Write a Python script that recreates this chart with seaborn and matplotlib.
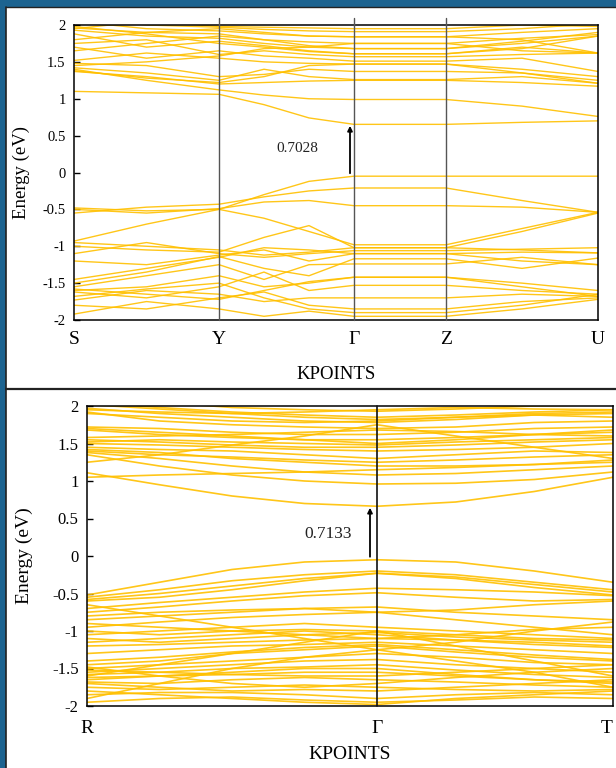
import matplotlib
matplotlib.use("Agg")
import matplotlib.pyplot as plt
from matplotlib.patches import Rectangle
from matplotlib.lines import Line2D
import numpy as np
import pandas as pd
import seaborn as sns

# ---------------- path 1: S - Y - Gamma - Z - U ----------------
path1_labels = ["S", "Y", "Γ", "Z", "U"]
path1_label_k = [0, 145, 280, 372, 524]
# k-distance of every sampled point along the path
path1_k = [0, 72.5, 145, 190, 235, 280, 372, 448, 524]
path1_gap = 0.7028
path1_vbm = -0.05

path1_valence = [
    [-0.48, -0.52, -0.50, -0.30, -0.12, -0.05, -0.05, -0.05, -0.05],
    [-0.55, -0.47, -0.43, -0.33, -0.25, -0.21, -0.21, -0.38, -0.54],
    [-0.50, -0.55, -0.49, -0.40, -0.38, -0.45, -0.45, -0.47, -0.54],
    [-0.93, -0.70, -0.50, -0.62, -0.80, -0.98, -0.98, -0.76, -0.54],
    [-1.00, -1.05, -1.08, -0.88, -0.72, -1.02, -1.02, -0.80, -0.55],
    [-1.10, -0.95, -1.10, -1.15, -1.10, -1.06, -1.06, -1.04, -1.02],
    [-1.20, -1.25, -1.12, -1.05, -1.20, -1.10, -1.10, -1.08, -1.09],
    [-1.50, -1.35, -1.14, -1.30, -1.40, -1.17, -1.17, -1.30, -1.16],
    [-1.55, -1.40, -1.25, -1.45, -1.25, -1.24, -1.24, -1.15, -1.25],
    [-1.60, -1.55, -1.40, -1.55, -1.50, -1.42, -1.42, -1.50, -1.60],
    [-1.62, -1.70, -1.55, -1.35, -1.60, -1.53, -1.53, -1.60, -1.65],
    [-1.73, -1.60, -1.65, -1.75, -1.70, -1.70, -1.70, -1.65, -1.68],
    [-1.80, -1.85, -1.70, -1.62, -1.80, -1.85, -1.85, -1.75, -1.70],
    [-1.92, -1.75, -1.85, -1.95, -1.88, -1.95, -1.95, -1.85, -1.72],
    [-0.95, -1.00, -1.05, -1.12, -1.08, -1.02, -1.02, -1.05, -1.09],
    [-1.45, -1.30, -1.15, -1.02, -1.05, -1.10, -1.10, -1.20, -1.25],
    [-1.58, -1.65, -1.72, -1.60, -1.48, -1.42, -1.42, -1.55, -1.68],
    [-1.68, -1.58, -1.50, -1.70, -1.85, -1.90, -1.90, -1.80, -1.65],
]
path1_conduction = [
    [1.10, 1.08, 1.06, 0.92, 0.74, 0.6528, 0.6528, 0.68, 0.70],
    [1.40, 1.25, 1.12, 1.05, 1.00, 0.99, 0.99, 0.90, 0.76],
    [1.37, 1.30, 1.20, 1.22, 1.24, 1.25, 1.25, 1.22, 1.17],
    [1.42, 1.35, 1.25, 1.40, 1.30, 1.26, 1.26, 1.30, 1.21],
    [1.48, 1.45, 1.30, 1.33, 1.40, 1.37, 1.37, 1.35, 1.25],
    [1.52, 1.62, 1.55, 1.50, 1.48, 1.47, 1.47, 1.40, 1.30],
    [1.70, 1.55, 1.65, 1.58, 1.55, 1.51, 1.51, 1.55, 1.37],
    [1.75, 1.80, 1.60, 1.65, 1.60, 1.57, 1.57, 1.60, 1.62],
    [1.88, 1.70, 1.78, 1.72, 1.65, 1.61, 1.61, 1.70, 1.62],
    [1.93, 1.85, 1.82, 1.75, 1.70, 1.68, 1.68, 1.75, 1.85],
    [1.96, 1.90, 1.88, 1.80, 1.77, 1.75, 1.75, 1.82, 1.87],
    [2.05, 1.95, 1.92, 1.88, 1.85, 1.84, 1.84, 1.90, 1.95],
    [2.10, 2.00, 1.97, 1.94, 1.92, 1.91, 1.91, 1.95, 2.02],
    [1.95, 2.05, 1.98, 1.97, 1.96, 1.95, 1.95, 2.00, 1.98],
    [1.38, 1.28, 1.22, 1.30, 1.45, 1.47, 1.47, 1.35, 1.21],
    [1.45, 1.50, 1.58, 1.68, 1.70, 1.75, 1.75, 1.65, 1.62],
    [1.65, 1.75, 1.85, 1.80, 1.72, 1.68, 1.68, 1.78, 1.90],
    [1.80, 1.90, 1.95, 1.90, 1.85, 1.84, 1.84, 1.80, 1.62],
    [1.98, 1.88, 1.75, 1.70, 1.64, 1.61, 1.61, 1.68, 1.85],
]

# ---------------- path 2: R - Gamma - T ----------------
path2_labels = ["R", "Γ", "T"]
path2_label_k = [0, 290, 526]
path2_k = [0, 72.5, 145, 217.5, 290, 368.7, 447.3, 526]
path2_gap = 0.7133
path2_vbm = -0.05

path2_valence = [
    [-0.52, -0.35, -0.18, -0.08, -0.05, -0.08, -0.20, -0.35],
    [-0.55, -0.45, -0.33, -0.25, -0.20, -0.25, -0.35, -0.45],
    [-0.60, -0.55, -0.45, -0.33, -0.23, -0.30, -0.42, -0.52],
    [-0.70, -0.62, -0.55, -0.48, -0.43, -0.45, -0.48, -0.53],
    [-0.75, -0.68, -0.60, -0.53, -0.49, -0.55, -0.60, -0.58],
    [-0.85, -0.80, -0.75, -0.70, -0.68, -0.75, -0.80, -0.85],
    [-0.95, -0.88, -0.82, -0.78, -0.75, -0.85, -0.95, -1.05],
    [-1.05, -1.00, -0.95, -0.90, -0.95, -1.00, -1.05, -1.10],
    [-1.10, -1.15, -1.10, -1.05, -1.02, -1.08, -1.12, -1.15],
    [-1.20, -1.18, -1.15, -1.12, -1.10, -1.12, -1.15, -1.20],
    [-1.30, -1.25, -1.20, -1.18, -1.15, -1.20, -1.25, -1.30],
    [-1.45, -1.40, -1.30, -1.25, -1.20, -1.28, -1.35, -1.40],
    [-1.50, -1.45, -1.40, -1.35, -1.30, -1.35, -1.42, -1.45],
    [-1.55, -1.50, -1.45, -1.40, -1.38, -1.45, -1.50, -1.55],
    [-1.58, -1.55, -1.50, -1.48, -1.45, -1.52, -1.58, -1.62],
    [-1.62, -1.60, -1.58, -1.55, -1.55, -1.60, -1.65, -1.68],
    [-1.68, -1.70, -1.65, -1.62, -1.65, -1.68, -1.72, -1.75],
    [-1.75, -1.78, -1.75, -1.72, -1.75, -1.78, -1.80, -1.78],
    [-1.85, -1.82, -1.82, -1.85, -1.90, -1.85, -1.82, -1.85],
    [-1.95, -1.90, -1.88, -1.92, -1.95, -1.92, -1.88, -1.90],
    [-0.65, -0.80, -0.95, -1.10, -1.25, -1.15, -1.00, -0.88],
    [-1.60, -1.45, -1.30, -1.15, -1.00, -1.20, -1.40, -1.60],
    [-0.58, -0.50, -0.40, -0.30, -0.23, -0.28, -0.38, -0.48],
    [-0.80, -0.75, -0.72, -0.70, -0.75, -0.72, -0.65, -0.60],
    [-1.00, -1.05, -1.00, -0.98, -1.00, -1.05, -1.10, -1.12],
    [-1.15, -1.10, -1.05, -1.00, -1.05, -1.12, -1.18, -1.22],
    [-1.40, -1.35, -1.28, -1.22, -1.18, -1.25, -1.32, -1.38],
    [-1.52, -1.55, -1.58, -1.60, -1.60, -1.55, -1.50, -1.45],
    [-1.65, -1.60, -1.55, -1.50, -1.50, -1.58, -1.65, -1.70],
    [-1.70, -1.75, -1.80, -1.78, -1.80, -1.75, -1.70, -1.65],
    [-1.80, -1.85, -1.90, -1.95, -1.98, -1.90, -1.85, -1.80],
    [-1.48, -1.60, -1.70, -1.75, -1.70, -1.62, -1.55, -1.50],
    [-0.90, -0.95, -1.00, -1.05, -1.10, -1.05, -0.98, -0.95],
    [-1.90, -1.70, -1.50, -1.35, -1.25, -1.40, -1.55, -1.75],
]
path2_conduction = [
    [1.11, 0.95, 0.80, 0.70, 0.6633, 0.72, 0.86, 1.05],
    [1.35, 1.20, 1.08, 1.00, 0.96, 0.97, 1.02, 1.12],
    [1.38, 1.30, 1.20, 1.12, 1.08, 1.10, 1.15, 1.20],
    [1.42, 1.38, 1.30, 1.25, 1.20, 1.20, 1.22, 1.25],
    [1.45, 1.42, 1.40, 1.35, 1.30, 1.35, 1.40, 1.38],
    [1.50, 1.48, 1.45, 1.42, 1.40, 1.42, 1.45, 1.50],
    [1.52, 1.55, 1.52, 1.50, 1.48, 1.52, 1.55, 1.58],
    [1.68, 1.62, 1.58, 1.55, 1.55, 1.58, 1.62, 1.65],
    [1.72, 1.70, 1.65, 1.62, 1.62, 1.65, 1.70, 1.72],
    [1.92, 1.80, 1.75, 1.72, 1.70, 1.72, 1.78, 1.80],
    [1.97, 1.90, 1.85, 1.80, 1.78, 1.82, 1.88, 1.85],
    [2.05, 1.98, 1.92, 1.88, 1.85, 1.88, 1.92, 1.95],
    [2.10, 2.05, 1.98, 1.95, 1.93, 1.96, 2.00, 2.02],
    [1.25, 1.35, 1.48, 1.60, 1.75, 1.60, 1.45, 1.30],
    [1.40, 1.35, 1.32, 1.28, 1.25, 1.28, 1.32, 1.35],
    [1.55, 1.52, 1.48, 1.45, 1.45, 1.48, 1.52, 1.55],
    [1.58, 1.60, 1.62, 1.65, 1.68, 1.66, 1.62, 1.60],
    [1.90, 1.85, 1.80, 1.78, 1.80, 1.85, 1.90, 1.92],
    [1.95, 1.92, 1.90, 1.92, 1.95, 1.98, 1.96, 1.95],
    [1.05, 1.08, 1.10, 1.12, 1.15, 1.18, 1.22, 1.28],
    [1.70, 1.65, 1.60, 1.55, 1.50, 1.55, 1.62, 1.68],
    [2.02, 1.96, 1.90, 1.85, 1.82, 1.85, 1.88, 1.90],
]

energy_ticks = [-2, -1.5, -1, -0.5, 0, 0.5, 1, 1.5, 2]
BAND_COLOR = "#FFC000"
SERIF = "Liberation Serif"


def bands_frame(kvals, bands):
    rows = []
    for i, band in enumerate(bands):
        for k, e in zip(kvals, band):
            rows.append({"band": i, "k": k, "E": e})
    return pd.DataFrame(rows)


def fmt_tick(v):
    return f"{v:g}"


sns.set_theme(style="white")
plt.rcParams["font.family"] = [SERIF, "DejaVu Serif"]

fig = plt.figure(figsize=(6.16, 7.68), dpi=100)
fig.patch.set_facecolor("#1c6390")

W, H = 616, 768
# white slide area behind both panels
fig.add_artist(Rectangle((6 / W, 0), 1 - 6 / W, 1 - 7 / H, transform=fig.transFigure,
                         facecolor="white", edgecolor="none", zorder=-10))
fig.add_artist(Line2D([6 / W, 6 / W], [0, 1 - 7 / H], transform=fig.transFigure,
                      color="#222222", lw=1.2, zorder=-5))
fig.add_artist(Line2D([6 / W, 1], [1 - 7 / H, 1 - 7 / H], transform=fig.transFigure,
                      color="#222222", lw=1.0, zorder=-5))
fig.add_artist(Line2D([6 / W, 1], [1 - 389 / H, 1 - 389 / H], transform=fig.transFigure,
                      color="#222222", lw=1.6, zorder=-5))


def make_panel(rect, kvals, valence, conduction, labels, label_k, gap, vbm,
               gap_text_xy, arrow_k, tick_size, label_size, sym_size,
               ylab_x, xlab_y, xtick_pad, sym_color, sym_lw, sym_top, lw):
    ax = fig.add_axes(rect)
    ax.set_facecolor("white")
    df = bands_frame(kvals, valence + conduction)
    sns.lineplot(data=df, x="k", y="E", units="band", estimator=None, sort=False,
                 color=BAND_COLOR, lw=lw, alpha=0.9, ax=ax, legend=False)
    kmax = label_k[-1]
    ax.set_xlim(0, kmax)
    ax.set_ylim(-2, 2)
    for kk in label_k[1:-1]:
        ax.axvline(kk, ymin=0, ymax=sym_top, color=sym_color, lw=sym_lw,
                   zorder=3, clip_on=False)
    ax.set_yticks(energy_ticks)
    ax.set_yticklabels([fmt_tick(v) for v in energy_ticks], fontsize=tick_size,
                       family=SERIF)
    ax.set_xticks(label_k)
    ax.set_xticklabels(labels, fontsize=sym_size, family=SERIF)
    ax.tick_params(axis="y", direction="in", length=4, width=1, left=True,
                   pad=6, colors="black")
    ax.tick_params(axis="x", length=0, pad=xtick_pad, colors="black")
    for s in ax.spines.values():
        s.set_color("black")
        s.set_linewidth(1.1)
        s.set_visible(True)
    ax.set_ylabel("Energy (eV)", fontsize=label_size, family=SERIF, color="black")
    ax.set_xlabel("KPOINTS", fontsize=label_size, family=SERIF, color="black")
    ax.yaxis.set_label_coords(ylab_x, 0.5)
    ax.xaxis.set_label_coords(0.5, xlab_y)
    cbm = vbm + gap
    ax.annotate("", xy=(arrow_k, cbm - 0.02), xytext=(arrow_k, vbm + 0.04),
                arrowprops=dict(arrowstyle="-|>", color="black", lw=1.3,
                                mutation_scale=7, shrinkA=0, shrinkB=0), zorder=4)
    ax.text(gap_text_xy[0], gap_text_xy[1], f"{gap:.4f}", fontsize=tick_size + 0.5,
            family=SERIF, ha="center", va="center", color="#222222")
    return ax


# top panel
ax1 = make_panel(
    [74 / W, 1 - 320 / H, 524 / W, 295 / H],
    path1_k, path1_valence, path1_conduction, path1_labels, path1_label_k,
    path1_gap, path1_vbm, gap_text_xy=(223, 0.32), arrow_k=276,
    tick_size=10.5, label_size=13.5, sym_size=14,
    ylab_x=-44 / 524, xlab_y=-46 / 295, xtick_pad=8,
    sym_color="#555555", sym_lw=1.0, sym_top=1.025, lw=1.0)

# bottom panel
ax2 = make_panel(
    [87 / W, 1 - 706 / H, 526 / W, 300 / H],
    path2_k, path2_valence, path2_conduction, path2_labels, path2_label_k,
    path2_gap, path2_vbm, gap_text_xy=(241, 0.30), arrow_k=283,
    tick_size=12, label_size=14, sym_size=14,
    ylab_x=-54 / 526, xlab_y=-40 / 300, xtick_pad=10,
    sym_color="#111111", sym_lw=1.2, sym_top=1.0, lw=1.2)
ax2.get_xticklabels()[-1].set_horizontalalignment("right")

fig.savefig("out.png", dpi=100, facecolor=fig.get_facecolor())
